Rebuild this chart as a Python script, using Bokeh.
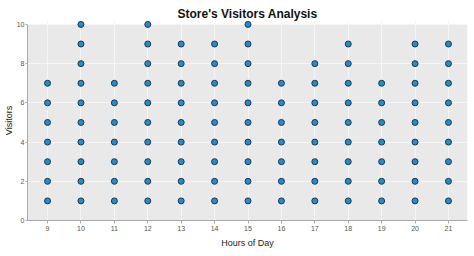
from bokeh.plotting import figure
from bokeh.models import Range1d, FixedTicker, ColumnDataSource
from bokeh.embed import file_html
from bokeh.resources import INLINE

hours = [9, 10, 11, 12, 13, 14, 15, 16, 17, 18, 19, 20, 21]
max_visitors = [7, 10, 7, 10, 9, 9, 10, 7, 8, 9, 7, 9, 9]
x_ticks = hours
y_ticks = [0, 2, 4, 6, 8, 10]

xs, ys = [], []
for h, m in zip(hours, max_visitors):
    for v in range(1, m + 1):
        xs.append(h)
        ys.append(v)
src = ColumnDataSource(dict(x=xs, y=ys))

X0, X1 = 8.40, 21.57
Y0, Y1 = 0, 10

p = figure(width=474, height=256, output_backend="svg", toolbar_location=None,
           x_range=Range1d(X0, X1), y_range=Range1d(Y0, Y1 + 0.2),
           title="Store's Visitors Analysis",
           min_border_left=25, min_border_right=7, min_border_top=20, min_border_bottom=36)
p.title.align = "center"
p.title.text_font = "Liberation Sans"
p.title.text_font_size = "12px"
p.title.text_font_style = "bold"
p.title.text_color = "#111111"
p.title.standoff = 0
p.title.offset = 90

p.background_fill_color = "white"
p.border_fill_color = "white"
p.outline_line_color = None

# gray panel covering the data area only (0..10)
p.quad(left=[X0], right=[X1], bottom=[Y0], top=[Y1], fill_color="#e9e9e9",
       line_color=None, level="image")

p.xgrid.grid_line_color = "#f5f5f5"
p.ygrid.grid_line_color = "#f5f5f5"

p.xaxis.ticker = FixedTicker(ticks=x_ticks)
p.yaxis.ticker = FixedTicker(ticks=y_ticks)
p.yaxis.bounds = (Y0, Y1)
p.xaxis.axis_label = "Hours of Day"
p.yaxis.axis_label = "Visitors"

for ax in (p.xaxis[0], p.yaxis[0]):
    ax.axis_line_color = "#aaaaaa"
    ax.major_tick_line_color = "#aaaaaa"
    ax.minor_tick_line_color = None
    ax.major_tick_out = 3
    ax.major_tick_in = 0
    ax.major_label_text_font = "Liberation Sans"
    ax.major_label_text_font_size = "7px"
    ax.major_label_text_color = "#555555"
    ax.axis_label_text_font = "Liberation Sans"
    ax.axis_label_text_font_size = "9px"
    ax.axis_label_text_font_style = "normal"
    ax.axis_label_text_color = "#222222"
    ax.major_label_standoff = 2

p.yaxis.major_tick_out = 2
p.yaxis.major_label_standoff = 1
p.xaxis.axis_label_standoff = 4
p.yaxis.axis_label_standoff = 0

p.scatter("x", "y", source=src, size=6, fill_color="#2c89c4", line_color="#163a52", line_width=1)

open("out.html", "w").write(file_html(p, INLINE))
